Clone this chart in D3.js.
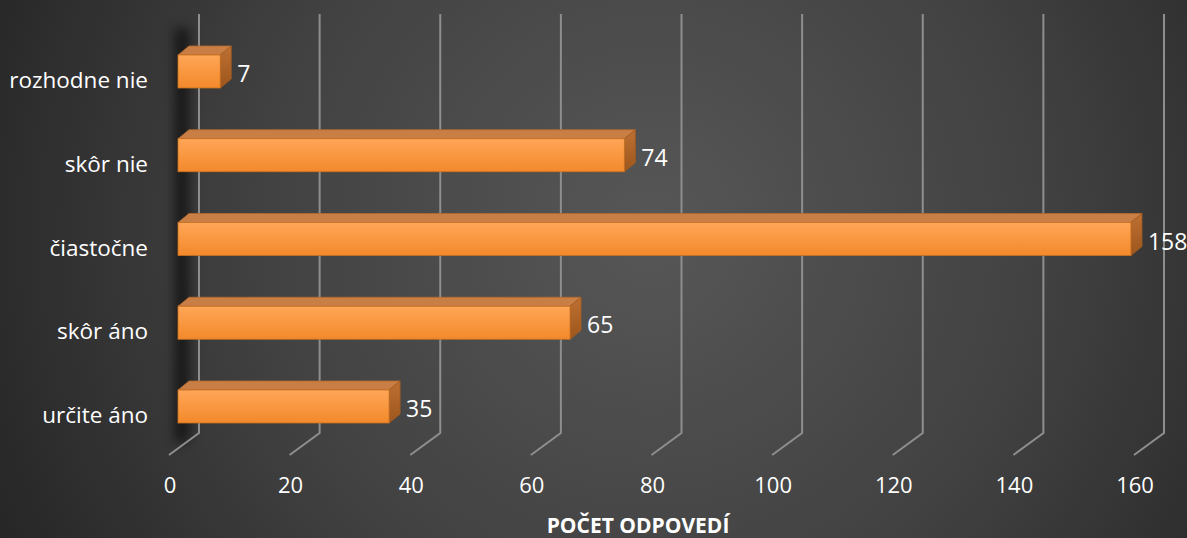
<!DOCTYPE html>
<html><head><meta charset="utf-8">
<script src="https://cdn.jsdelivr.net/npm/d3@7"></script>
<style>html,body{margin:0;padding:0;background:#333;overflow:hidden}</style>
</head><body>
<svg id="c" width="1187" height="538"></svg>
<script>
const categories = ["rozhodne nie", "skôr nie", "čiastočne", "skôr áno", "určite áno"];
const values = [7, 74, 158, 65, 35];
const ticks = [0, 20, 40, 60, 80, 100, 120, 140, 160];
const axisTitle = "POČET ODPOVEDÍ";

const W = 1187, H = 538;
const svg = d3.select("#c");
const defs = svg.append("defs");

const bg = defs.append("radialGradient").attr("id","bg").attr("gradientUnits","userSpaceOnUse")
  .attr("cx",650).attr("cy",230).attr("r",720);
bg.append("stop").attr("offset","0%").attr("stop-color","#575757");
bg.append("stop").attr("offset","55%").attr("stop-color","#414141");
bg.append("stop").attr("offset","100%").attr("stop-color","#262626");
svg.append("rect").attr("width",W).attr("height",H).attr("fill","url(#bg)");

const fg = defs.append("linearGradient").attr("id","front").attr("x1",0).attr("y1",0).attr("x2",0).attr("y2",1);
fg.append("stop").attr("offset","0%").attr("stop-color","#ffa657");
fg.append("stop").attr("offset","100%").attr("stop-color","#f3892b");
const sg = defs.append("linearGradient").attr("id","side").attr("x1",0).attr("y1",0).attr("x2",0).attr("y2",1);
sg.append("stop").attr("offset","0%").attr("stop-color","#bf7033");
sg.append("stop").attr("offset","100%").attr("stop-color","#9c561c");
const blur = defs.append("filter").attr("id","blur").attr("x","-150%").attr("y","-20%").attr("width","400%").attr("height","140%");
blur.append("feGaussianBlur").attr("stdDeviation",6);

// scales
const xBack = d3.scaleLinear().domain([0,160]).range([199,1164]);
const floorDx = -30, floorDy = 22;
const gridTop = 14, gridBottom = 433;
const barDx = -21, depthX = 11, depthY = -9, barH = 33;
const y = d3.scalePoint().domain(categories).range([71.5, 406.5]);

// shadow on back wall
svg.append("rect").attr("x",175).attr("y",28).attr("width",14).attr("height",414)
  .attr("fill","#000").attr("opacity",0.6).attr("filter","url(#blur)");

// gridlines
const g = svg.append("g");
ticks.forEach(t => {
  const x = xBack(t);
  g.append("path")
    .attr("d", `M${x},${gridTop}V${gridBottom}L${x+floorDx},${gridBottom+floorDy}`)
    .attr("fill","none").attr("stroke","#8e8e8e").attr("stroke-width",2);
});

// tick labels
svg.append("g").selectAll("text").data(ticks).join("text")
  .attr("x", d => xBack(d)+floorDx+1).attr("y", 493)
  .attr("text-anchor","middle").attr("fill","#ffffff")
  .attr("font-family","'Open Sans', sans-serif").attr("font-size",22)
  .text(d => d);

// bars
const bars = svg.append("g").selectAll("g").data(categories).join("g");
bars.each(function(c, i){
  const v = values[i];
  const x0 = xBack(0)+barDx, x1 = xBack(v)+barDx;
  const yT = y(c) - barH/2, yB = y(c) + barH/2;
  const s = d3.select(this);
  s.append("path").attr("d", `M${x0},${yT}L${x0+depthX},${yT+depthY}L${x1+depthX},${yT+depthY}L${x1},${yT}Z`)
    .attr("fill","#c97e45").attr("stroke","#b56a2c").attr("stroke-width",0.8);
  s.append("path").attr("d", `M${x1},${yT}L${x1+depthX},${yT+depthY}L${x1+depthX},${yB+depthY}L${x1},${yB}Z`)
    .attr("fill","url(#side)").attr("stroke","#a35c20").attr("stroke-width",0.8);
  s.append("rect").attr("x",x0).attr("y",yT).attr("width",x1-x0).attr("height",barH)
    .attr("fill","url(#front)").attr("stroke","#c8701f").attr("stroke-width",0.8);
  s.append("text").attr("x", x1+depthX+6).attr("y", yB-6)
    .attr("fill","#ffffff").attr("font-family","'Open Sans', sans-serif").attr("font-size",23)
    .text(v);
});

// category labels
svg.append("g").selectAll("text").data(categories).join("text")
  .attr("x",148).attr("y", d => y(d)+barH/2)
  .attr("text-anchor","end").attr("fill","#ffffff")
  .attr("font-family","'Open Sans', sans-serif").attr("font-size",22.5)
  .text(d => d);

// axis title
svg.append("text").attr("x",638).attr("y",533).attr("text-anchor","middle")
  .attr("fill","#ffffff").attr("font-family","'Open Sans', sans-serif").attr("font-weight","bold")
  .attr("font-size",21).text(axisTitle);
</script>
</body></html>
